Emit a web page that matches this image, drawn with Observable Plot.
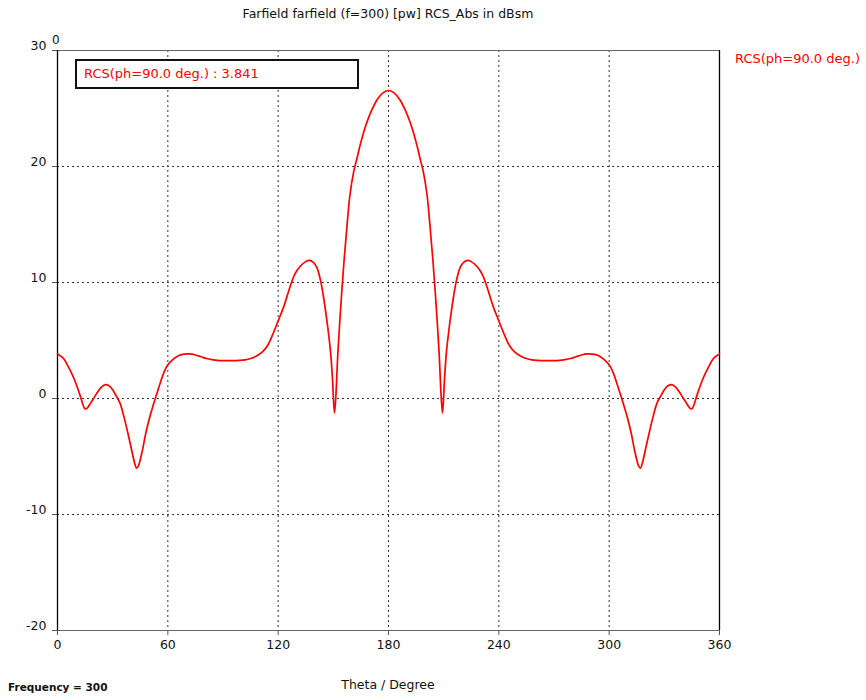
<!DOCTYPE html>
<html>
<head>
<meta charset="utf-8">
<script src="https://cdn.jsdelivr.net/npm/d3@7"></script>
<script src="https://cdn.jsdelivr.net/npm/@observablehq/plot@0.6"></script>
<style>
  html, body { margin: 0; padding: 0; background: #fff; }
  #wrap { position: relative; width: 866px; height: 700px; font-family: "DejaVu Sans", sans-serif; }
  .abs { position: absolute; white-space: nowrap; }
  #title { left: 0; width: 776px; top: 6px; text-align: center; font-size: 12.5px; color: #111; }
  #legbox { left: 75px; top: 59px; width: 284px; height: 30px; box-sizing: border-box; border: 2px solid #111; background: #fff; color: #ff0000; font-size: 13px; line-height: 26px; padding-left: 7px; }
  #legright { left: 735px; top: 51px; font-size: 13px; color: #ff0000; }
  #zero { left: 52px; top: 33px; font-size: 12px; color: #111; }
  #xlabel { left: 0; width: 776px; top: 677px; text-align: center; font-size: 12.5px; color: #111; }
  #freq { left: 8px; top: 681px; font-size: 10.5px; font-weight: bold; color: #111; }
</style>
</head>
<body>
<div id="wrap"></div>
<script>
// ---- data ----
const theta = [
  0, 3, 6, 9, 12, 14, 15, 16, 18, 20, 22, 24, 26, 28, 30, 32, 34, 36, 38, 40, 42, 43, 44, 46, 48, 50,
  52, 54, 56, 58, 60, 63, 66, 69, 72, 75, 78, 81, 84, 87, 90, 93, 96, 99, 102, 105, 108, 111, 114, 117,
  120, 123, 126, 129, 132, 135, 137, 139, 141, 143, 145, 147, 148.5, 149.5, 150.6, 151.3, 152.5, 154.5,
  156, 157.5, 159, 161, 163, 165, 168, 171, 174, 177, 180,
  183, 186, 189, 192, 195, 197, 199, 201, 202.5, 204, 205.5, 207.5, 208.7, 209.4, 210.5, 211.5, 213,
  215, 217, 219, 221, 223, 225, 228, 231, 234, 237, 240, 243, 246, 249, 252, 255, 258, 261, 264, 267,
  270, 273, 276, 279, 282, 285, 288, 291, 294, 297, 300, 302, 304, 306, 308, 310, 312, 314, 316, 317,
  318, 320, 322, 324, 326, 328, 330, 332, 334, 336, 338, 340, 342, 344, 345, 346, 348, 351, 354, 357, 360
];
const rcs = [
  3.84, 3.5, 2.7, 1.7, 0.4, -0.6, -0.9, -0.85, -0.4, 0.1, 0.6, 1.0, 1.2, 1.1, 0.75, 0.2, -0.4, -1.5, -2.8, -4.2, -5.6, -6.0, -5.8, -4.6, -3.0, -1.7,
  -0.6, 0.4, 1.4, 2.3, 2.9, 3.4, 3.7, 3.82, 3.84, 3.75, 3.6, 3.45, 3.35, 3.28, 3.26, 3.26, 3.27, 3.28, 3.33, 3.45, 3.65, 3.95, 4.5, 5.5,
  6.7, 7.9, 9.4, 10.7, 11.4, 11.8, 11.9, 11.75, 11.3, 10.2, 8.4, 6.1, 4.0, 1.8, -1.25, 0, 4.0, 9.0,
  12.2, 15.0, 17.5, 19.5, 20.8, 22.1, 23.7, 24.9, 25.8, 26.35, 26.55,
  26.35, 25.8, 24.9, 23.7, 22.1, 20.8, 19.5, 17.5, 15.0, 12.2, 9.0, 4.0, 0, -1.25, 1.8, 4.0, 6.1,
  8.4, 10.2, 11.3, 11.75, 11.9, 11.8, 11.4, 10.7, 9.4, 7.9, 6.7, 5.5, 4.5, 3.95, 3.65, 3.45, 3.33, 3.28, 3.27, 3.26,
  3.26, 3.28, 3.35, 3.45, 3.6, 3.75, 3.84, 3.82, 3.7, 3.4, 2.9, 2.3, 1.4, 0.4, -0.6, -1.7, -3.0, -4.6, -5.8, -6.0,
  -5.6, -4.2, -2.8, -1.5, -0.4, 0.2, 0.75, 1.1, 1.2, 1.0, 0.6, 0.1, -0.4, -0.85, -0.9, -0.6, 0.4, 1.7, 2.7, 3.5, 3.84
];
const xTicks = [0, 60, 120, 180, 240, 300, 360];
const yTicks = [-20, -10, 0, 10, 20, 30];
const titleText = "Farfield farfield (f=300) [pw] RCS_Abs in dBsm";
const seriesName = "RCS(ph=90.0 deg.)";
const markerValue = "3.841";
const xLabel = "Theta / Degree";
const freqText = "Frequency = 300";

const data = theta.map((t, i) => ({theta: t, rcs: rcs[i]}));

const chart = Plot.plot({
  width: 866,
  height: 700,
  marginLeft: 57,
  marginRight: 147,
  marginTop: 50,
  marginBottom: 70,
  style: {fontFamily: "DejaVu Sans, sans-serif", fontSize: "12px", background: "white", color: "#111"},
  x: {domain: [0, 360], axis: null, label: null},
  y: {domain: [-20, 30], axis: null, label: null},
  marks: [
    Plot.ruleX(xTicks.slice(1, -1), {stroke: "#333", strokeDasharray: "2,3", strokeWidth: 1}),
    Plot.ruleY(yTicks.slice(1, -1), {stroke: "#333", strokeDasharray: "2,3", strokeWidth: 1}),
    Plot.ruleY([-20, 30], {stroke: "#666", strokeWidth: 1.2}),
    Plot.ruleX([0, 360], {stroke: "#000", strokeWidth: 1.3}),
    Plot.axisX({ticks: xTicks, tickSize: 5, tickPadding: 5, fontSize: 12.5, stroke: "#555", label: null}),
    Plot.axisY({ticks: yTicks, tickSize: 5, text: null, stroke: "#555", label: null}),
    Plot.text(yTicks, {x: 0, y: d => d, dx: -11, dy: -5, textAnchor: "end", fontSize: 12.5, fill: "#111"}),
    Plot.line(data, {x: "theta", y: "rcs", stroke: "#ff0000", strokeWidth: 1.7, curve: "catmull-rom"})
  ]
});

const wrap = document.getElementById("wrap");
wrap.appendChild(chart);
function addText(id, txt) {
  const d = document.createElement("div");
  d.className = "abs";
  d.id = id;
  d.textContent = txt;
  wrap.appendChild(d);
}
addText("title", titleText);
addText("legbox", seriesName + " : " + markerValue);
addText("legright", seriesName);
addText("zero", "0");
addText("xlabel", xLabel);
addText("freq", freqText);
</script>
</body>
</html>
